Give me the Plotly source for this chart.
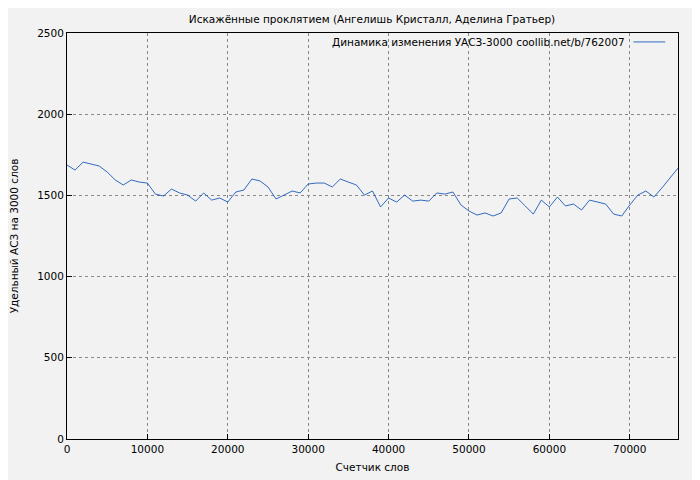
import plotly.graph_objects as go

# word counter positions and specific UASZ values
words = list(range(0, 77000, 1000))
uasz = [1687, 1656, 1705, 1693, 1681, 1644, 1595, 1564, 1595, 1582,
        1576, 1508, 1496, 1539, 1515, 1502, 1465, 1515, 1471, 1484,
        1459, 1521, 1533, 1601, 1589, 1552, 1478, 1502, 1527, 1515,
        1570, 1576, 1576, 1552, 1601, 1582, 1564, 1502, 1527, 1429,
        1484, 1459, 1502, 1465, 1471, 1465, 1515, 1508, 1521, 1441,
        1404, 1379, 1392, 1373, 1392, 1478, 1484, 1435, 1385, 1471,
        1429, 1490, 1435, 1447, 1410, 1471, 1459, 1447, 1385, 1373,
        1441, 1502, 1527, 1490, 1546, 1607, 1668]
legend_text = "Динамика изменения УАСЗ-3000 coollib.net/b/762007"

fig = go.Figure()
fig.add_trace(go.Scatter(x=words, y=uasz, mode="lines",
                         line=dict(color="#0047b3", width=0.8),
                         showlegend=False))

axis = dict(showline=True, linecolor="black", linewidth=1, mirror=True,
            showgrid=True, gridcolor="#888888", griddash="dot", gridwidth=0.7,
            ticks="inside", ticklen=5, tickcolor="black", zeroline=False,
            automargin=False, tickfont=dict(size=10.5, color="black"))

fig.update_xaxes(axis, range=[0, 76000], dtick=10000, tickformat="d",
                 title=dict(text="Счетчик слов", font=dict(size=10.5), standoff=10))
fig.update_yaxes(axis, range=[0, 2500], dtick=500,
                 title=dict(text="Удельный АСЗ на 3000 слов", font=dict(size=10.5), standoff=18))

# gnuplot-style key: text then line sample on the right
fig.add_annotation(text=legend_text, xref="paper", yref="paper", x=0.916, y=0.978,
                   xanchor="right", yanchor="middle", showarrow=False, font=dict(size=10.5))
fig.add_shape(type="line", xref="paper", yref="paper", x0=0.927, x1=0.979,
              y0=0.978, y1=0.978, line=dict(color="#0047b3", width=0.8))

fig.update_layout(
    width=700, height=480,
    margin=dict(l=59, r=30, t=25, b=49),
    paper_bgcolor="#f2f2f2", plot_bgcolor="#f2f2f2",
    font=dict(family="DejaVu Sans", size=10.5, color="black"),
    title=dict(text="Искажённые проклятием (Ангелишь Кристалл, Аделина Гратьер)",
               x=0.52, xanchor="center", y=0.985, font=dict(size=10.5)),
)

fig.write_html("out.html")
